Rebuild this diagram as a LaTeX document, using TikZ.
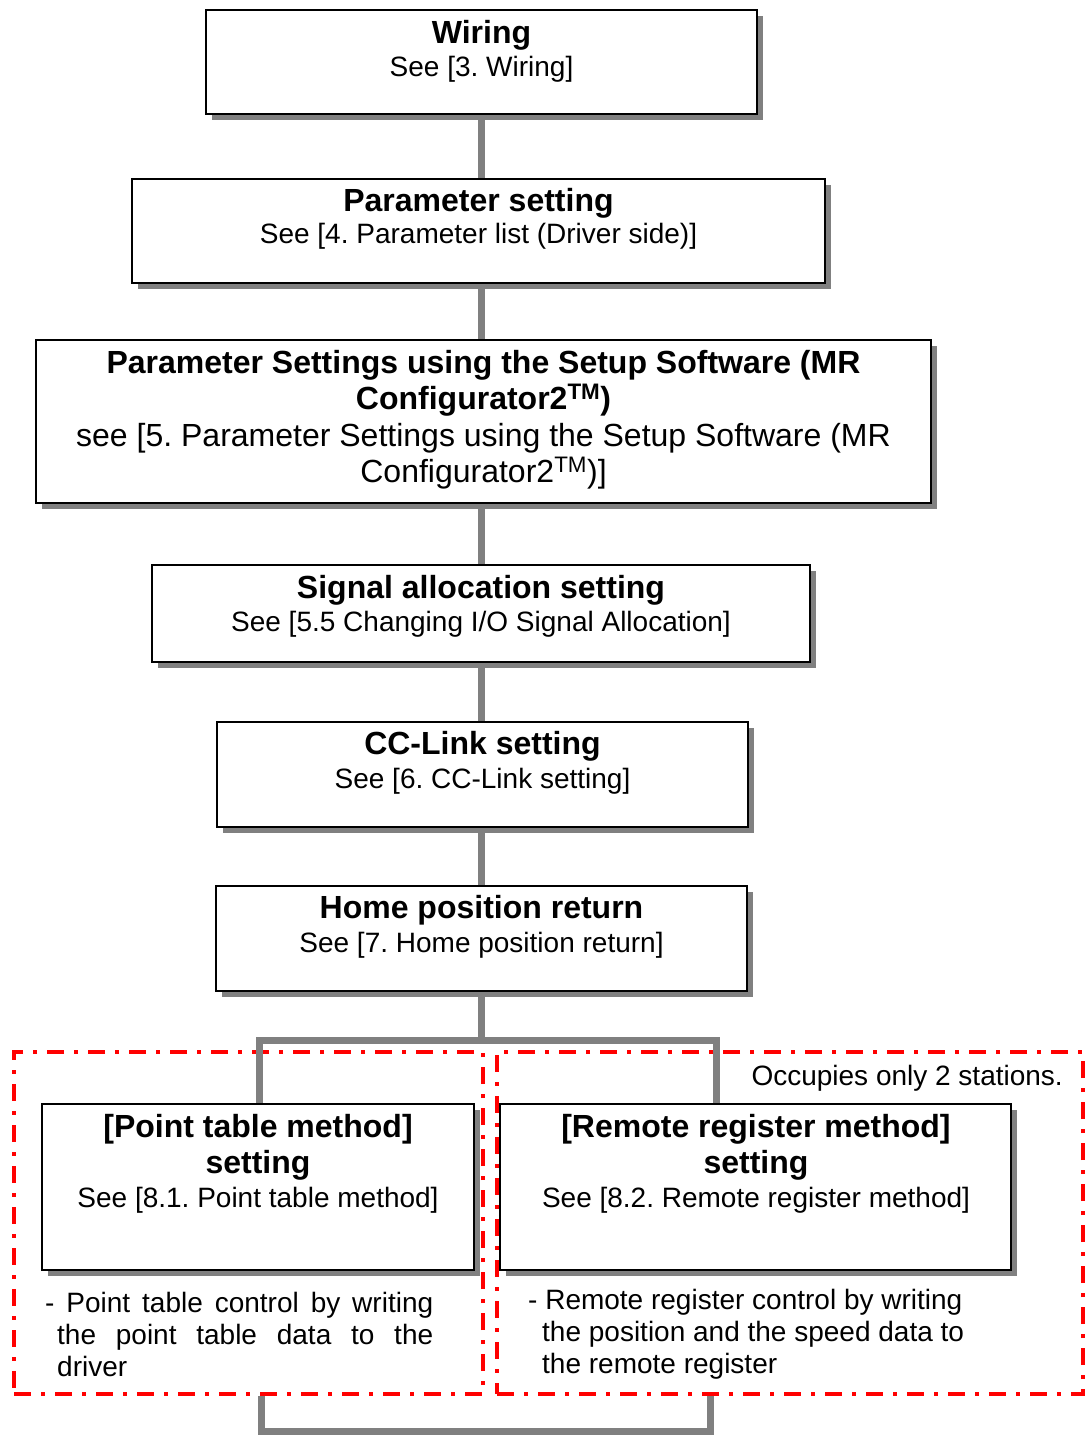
\documentclass[tikz,border=0pt]{standalone}
\usepackage{fontspec}
\setmainfont{Liberation Sans}
\usetikzlibrary{shadows,backgrounds}
\definecolor{connGray}{RGB}{128,128,128}
\definecolor{shadeGray}{RGB}{128,128,128}
\frenchspacing
\begin{document}
\frenchspacing
\begin{tikzpicture}[x=1pt,y=-1pt,
  box/.style={draw=black, line width=2.5pt, fill=white, inner sep=0pt,
    drop shadow={shadow xshift=5.5pt, shadow yshift=-5.5pt, fill=shadeGray, opacity=1}},
  ttl/.style={anchor=base, inner sep=0pt, font=\fontsize{32}{36}\selectfont\bfseries\frenchspacing},
  sub/.style={anchor=base, inner sep=0pt, font=\fontsize{28}{33}\selectfont\frenchspacing},
  subbig/.style={anchor=base, inner sep=0pt, font=\fontsize{32}{36}\selectfont\frenchspacing},
  desc/.style={anchor=base west, inner sep=0pt, font=\fontsize{28}{33}\selectfont\frenchspacing},
  connline/.style={draw=connGray, line width=7pt},
  redbox/.style={draw=red, line width=3.5pt, dash pattern=on 17pt off 10pt on 4pt off 10pt, inner sep=0pt}
]
\useasboundingbox (0,0) rectangle (1085,1435);

% boxes
\node[box, minimum width=551pt, minimum height=104pt] (b1) at (481.5,62) {};
\node[box, minimum width=693pt, minimum height=104pt] (b2) at (478.5,231) {};
\node[box, minimum width=895pt, minimum height=163pt] (b3) at (483.5,421.5) {};
\node[box, minimum width=658pt, minimum height=97pt] (b4) at (481,613.5) {};
\node[box, minimum width=531pt, minimum height=105pt] (b5) at (482.5,774.5) {};
\node[box, minimum width=531pt, minimum height=105pt] (b6) at (481.5,938.5) {};
\node[box, minimum width=432pt, minimum height=166pt] (b7) at (258,1187) {};
\node[box, minimum width=511pt, minimum height=166pt] (b8) at (755.5,1187) {};

% texts
\node[ttl] (t1) at (481.5,43) {Wiring};
\node[sub] (s1) at (481.5,76) {See [3. Wiring]};
\node[ttl] (t2) at (478.5,211) {Parameter setting};
\node[sub] (s2) at (478.5,243) {See [4. Parameter list (Driver side)]};
\node[ttl] (t3a) at (483.5,373) {Parameter Settings using the Setup Software (MR};
\node[ttl] (t3b) at (483.5,409) {Configurator2\textsuperscript{TM})};
\node[subbig] (s3a) at (483.5,446) {see [5. Parameter Settings using the Setup Software (MR};
\node[subbig] (s3b) at (483.5,482) {Configurator2\textsuperscript{TM})]};
\node[ttl] (t4) at (481,598) {Signal allocation setting};
\node[sub] (s4) at (481,631) {See [5.5 Changing I/O Signal Allocation]};
\node[ttl] (t5) at (482.5,754) {CC-Link setting};
\node[sub] (s5) at (482.5,788) {See [6. CC-Link setting]};
\node[ttl] (t6) at (481.5,918) {Home position return};
\node[sub] (s6) at (481.5,952) {See [7. Home position return]};
\node[ttl] (t7a) at (258,1137) {[Point table method]};
\node[ttl] (t7b) at (258,1173) {setting};
\node[sub] (s7) at (258,1207) {See [8.1. Point table method]};
\node[ttl] (t8a) at (756,1137) {[Remote register method]};
\node[ttl] (t8b) at (756,1173) {setting};
\node[sub] (s8) at (756,1207) {See [8.2. Remote register method]};

% descriptions
\node[desc] (d1a) at (45,1312) {\makebox[388pt][s]{- Point table control by writing}};
\node[desc] (d1b) at (57,1344) {\makebox[376pt][s]{the point table data to the}};
\node[desc] (d1c) at (57,1376) {driver};
\node[desc] (d2a) at (528,1309) {- Remote register control by writing};
\node[desc] (d2b) at (542,1341) {the position and the speed data to};
\node[desc] (d2c) at (542,1373) {the remote register};
\node[sub, anchor=base east] (occ) at (1063,1085) {Occupies only 2 stations.};

\begin{scope}[on background layer]
  \node[redbox, minimum width=469pt, minimum height=342pt] (rl) at (248.5,1223) {};
  \node[redbox, minimum width=586pt, minimum height=342pt] (rr) at (790,1223) {};
  \coordinate (jL) at (259,1040);
  \coordinate (jR) at (716,1040);
  \coordinate (kL) at (261,1431);
  \coordinate (kR) at (710,1431);
  \draw[connline] (b1.south) -- (b1.south |- b2.north);
  \draw[connline] (b2.south -| b1.south) -- (b1.south |- b3.north);
  \draw[connline] (b3.south -| b1.south) -- (b1.south |- b4.north);
  \draw[connline] (b4.south -| b1.south) -- (b1.south |- b5.north);
  \draw[connline] (b5.south -| b1.south) -- (b1.south |- b6.north);
  \draw[connline] (b6.south -| b1.south) -- (b1.south |- jL);
  \draw[connline] (jL |- b7.north) -- (jL) -- (jR) -- (jR |- b8.north);
  \draw[connline] (kL |- rl.south) -- (kL) -- (kR) -- (kR |- rr.south);
\end{scope}
\end{tikzpicture}
\end{document}
